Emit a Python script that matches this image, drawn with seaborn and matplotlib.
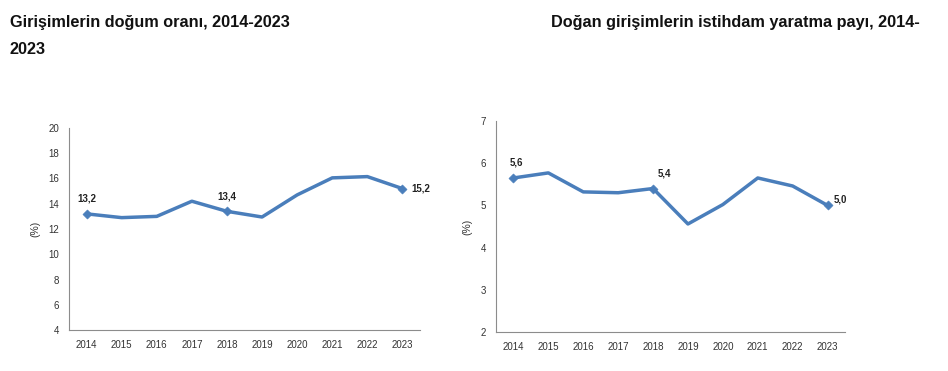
import matplotlib
matplotlib.use("Agg")
import matplotlib.pyplot as plt
import seaborn as sns
import pandas as pd
import numpy as np

years = ["2014", "2015", "2016", "2017", "2018", "2019", "2020", "2021", "2022", "2023"]
birth_rate = [13.2, 12.9, 13.0, 14.2, 13.4, 12.95, 14.7, 16.05, 16.15, 15.2]
employment_share = [5.65, 5.77, 5.32, 5.30, 5.40, 4.56, 5.02, 5.65, 5.46, 5.0]
left_labels = {"2014": "13,2", "2018": "13,4", "2023": "15,2"}
right_labels = {"2014": "5,6", "2018": "5,4", "2023": "5,0"}
left_title = "Girişimlerin doğum oranı, 2014-2023"
left_title2 = "2023"
right_title = "Doğan girişimlerin istihdam yaratma payı, 2014-"

sns.set_theme(style="white")
plt.rcParams["font.family"] = ["Liberation Sans", "DejaVu Sans"]

W, H = 948, 371
fig = plt.figure(figsize=(W / 100, H / 100), dpi=100)

line_color = "#4A7EBB"
axis_color = "#8C8C8C"

def make_ax(x0, x1, ytop, ybot):
    return fig.add_axes([x0 / W, 1 - ybot / H, (x1 - x0) / W, (ybot - ytop) / H])

def draw(ax, values, labels, ylim, yticks, offsets):
    df = pd.DataFrame({"year": years, "value": values})
    sns.lineplot(data=df, x="year", y="value", ax=ax, color=line_color, lw=2.5, sort=False)
    mk = df[df["year"].isin(list(labels.keys()))]
    sns.scatterplot(data=mk, x="year", y="value", ax=ax, color=line_color, marker="D",
                    s=22, edgecolor=line_color, zorder=5, legend=False)
    for yr, txt in labels.items():
        i = years.index(yr)
        dx, dy = offsets[yr]
        ax.annotate(txt, (i, values[i]), xytext=(dx, dy), textcoords="offset points",
                    ha="center", va="center", fontsize=7, fontweight="bold", color="#222222")
    ax.set_xlim(-0.5, len(years) - 0.5)
    ax.set_ylim(*ylim)
    ax.set_yticks(yticks)
    ax.set_yticklabels([str(t) for t in yticks], fontsize=7, color="#333333")
    ax.set_xticks(range(len(years)))
    ax.set_xticklabels(years, fontsize=7, color="#333333")
    ax.set_xticks(np.arange(-0.5, len(years)), minor=True)
    ax.tick_params(axis="x", which="major", length=0, pad=7)
    ax.tick_params(axis="x", which="minor", length=4, color=axis_color, width=0.8, direction="out")
    ax.tick_params(axis="y", which="major", length=4, color=axis_color, width=0.8, direction="out", pad=3)
    ax.set_xlabel("")
    ax.set_ylabel("(%)", fontsize=7.5, color="#333333", labelpad=6)
    for s in ["top", "right"]:
        ax.spines[s].set_visible(False)
    for s in ["left", "bottom"]:
        ax.spines[s].set_color(axis_color)
        ax.spines[s].set_linewidth(0.8)

ax1 = make_ax(69, 420, 128, 330)
draw(ax1, birth_rate, left_labels, (4, 20), list(range(4, 21, 2)),
     {"2014": (0, 11), "2018": (0, 11), "2023": (13, 0)})

ax2 = make_ax(496, 845, 121, 332)
draw(ax2, employment_share, right_labels, (2, 7), list(range(2, 8)),
     {"2014": (2, 11), "2018": (8, 11), "2023": (9, 4)})

title_kw = dict(fontsize=11.7, fontweight="bold", ha="left", va="center", color="#111111")
fig.text(10 / W, 1 - 23 / H, left_title, **title_kw)
fig.text(10 / W, 1 - 50 / H, left_title2, **title_kw)
fig.text(551 / W, 1 - 23 / H, right_title, **title_kw)

fig.savefig("out.png", dpi=100, facecolor="white")
